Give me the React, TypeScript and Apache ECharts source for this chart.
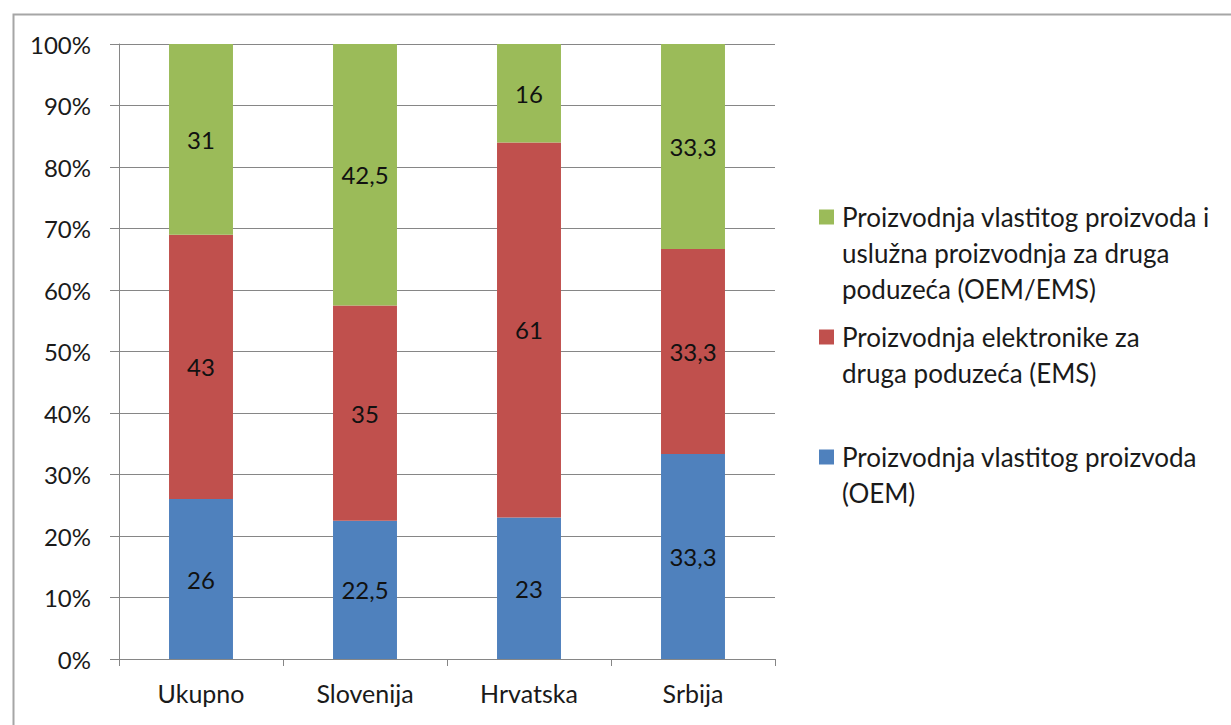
import React, { useEffect, useRef } from "react";
import * as echarts from "echarts";

const categories = ["Ukupno", "Slovenija", "Hrvatska", "Srbija"];
const seriesNames = [
  "Proizvodnja vlastitog proizvoda (OEM)",
  "Proizvodnja elektronike za druga poduzeća (EMS)",
  "Proizvodnja vlastitog proizvoda i uslužna proizvodnja za druga poduzeća (OEM/EMS)",
];
const oemValues = [26, 22.5, 23, 33.3];
const emsValues = [43, 35, 61, 33.3];
const bothValues = [31, 42.5, 16, 33.3];
const legendLines = [
  ["Proizvodnja vlastitog proizvoda", "(OEM)"],
  ["Proizvodnja elektronike za", "druga poduzeća (EMS)"],
  ["Proizvodnja vlastitog proizvoda i", "uslužna proizvodnja za druga", "poduzeća (OEM/EMS)"],
];
const yTicks = [0, 10, 20, 30, 40, 50, 60, 70, 80, 90, 100];

const colors = ["#4F81BD", "#C0504D", "#9BBB59"];
const FONT = "Lato";
const FS = 24;
const LH = 36;
const LEGEND_FS = 26;
const iconCenters = [457, 337, 217];

export default function App() {
  const ref = useRef<HTMLDivElement>(null);
  useEffect(() => {
    if (!ref.current) return;
    const chart = echarts.init(ref.current, undefined, { renderer: "svg" });
    const raw = [oemValues, emsValues, bothValues];
    const totals = categories.map((_, i) => raw.reduce((s, a) => s + a[i], 0));
    const fmt = (v: number) => String(v).replace(".", ",");

    const legends = [2, 1, 0].map((si) => {
      const n = legendLines[si].length;
      const blockLines = 2 * n - 1;
      const pre = new Array(n - 1).fill(" ");
      return {
        show: true,
        orient: "vertical",
        left: 819,
        top: iconCenters[si] - (blockLines * LH) / 2,
        padding: 0,
        itemWidth: 15,
        itemHeight: 15,
        icon: "rect",
        data: [seriesNames[si]],
        formatter: () => pre.concat(legendLines[si]).join("\n"),
        textStyle: {
          fontFamily: FONT,
          fontSize: LEGEND_FS,
          color: "#1a1a1a",
          lineHeight: LH,
          padding: [0, 0, 0, 3],
        },
      };
    });

    chart.setOption({
      animation: false,
      backgroundColor: "#ffffff",
      textStyle: { fontFamily: FONT },
      color: colors,
      graphic: [
        {
          type: "rect",
          left: 11,
          top: 12,
          shape: { width: 1400, height: 900 },
          style: { fill: "none", stroke: "#a6a6a6", lineWidth: 2 },
          silent: true,
        },
      ],
      legend: legends,
      grid: { left: 119, right: 456, top: 44, bottom: 66, containLabel: false },
      xAxis: {
        type: "category",
        data: categories,
        axisLine: { lineStyle: { color: "#868686", width: 1 } },
        axisTick: { show: true, length: 7, lineStyle: { color: "#868686" } },
        axisLabel: { fontFamily: FONT, fontSize: 25, color: "#1a1a1a", margin: 21 },
      },
      yAxis: {
        type: "value",
        min: yTicks[0],
        max: yTicks[yTicks.length - 1],
        interval: 10,
        axisLine: { show: true, lineStyle: { color: "#868686", width: 1 } },
        axisTick: { show: true, length: 9, lineStyle: { color: "#868686" } },
        splitLine: { lineStyle: { color: "#868686", width: 1 } },
        axisLabel: {
          fontFamily: FONT,
          fontSize: FS,
          color: "#1a1a1a",
          margin: 28,
          formatter: (v: number) => v + "%",
        },
      },
      series: raw.map((arr, si) => ({
        name: seriesNames[si],
        type: "bar",
        stack: "total",
        barWidth: "39%",
        itemStyle: { color: colors[si] },
        label: {
          show: true,
          position: "inside",
          fontFamily: FONT,
          fontSize: FS,
          color: "#111",
          formatter: (p: any) => fmt(arr[p.dataIndex]),
        },
        data: arr.map((v, i) => (v / totals[i]) * 100),
      })),
    });
    return () => chart.dispose();
  }, []);
  return (
    <div
      ref={ref}
      style={{ position: "absolute", left: 0, top: 0, width: 1231, height: 725 }}
    />
  );
}
